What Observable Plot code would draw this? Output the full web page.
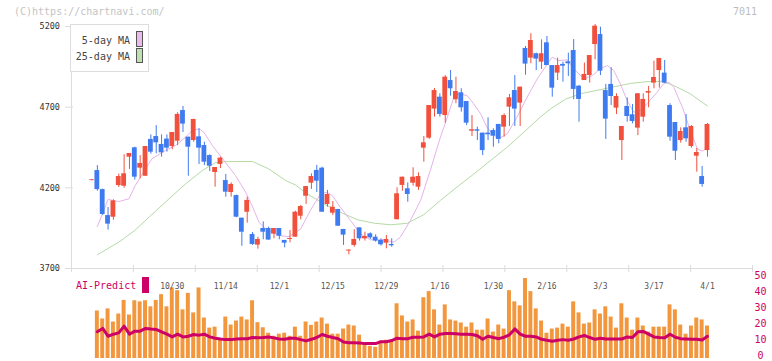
<!DOCTYPE html>
<html>
<head>
<meta charset="utf-8">
<script src="https://cdn.jsdelivr.net/npm/d3@7"></script>
<script src="https://cdn.jsdelivr.net/npm/@observablehq/plot@0.6"></script>
<style>
  html, body { margin: 0; padding: 0; background: #fff; }
  #wrap { position: relative; width: 772px; height: 361px; overflow: hidden; font-family: "DejaVu Sans Mono", monospace; }
  #wrap svg { position: absolute; left: 0; }
  .t { position: absolute; white-space: nowrap; line-height: 12px; }
</style>
</head>
<body>
<div id="wrap">
  <div id="main"></div>
  <div id="sub"></div>
  <div class="t" style="left:14px;top:6px;font-size:10px;color:#c4c4c4;">(C)https://chartnavi.com/</div>
  <div class="t" style="right:15px;top:6px;font-size:10px;color:#bdbdbd;">7011</div>
  <div style="position:absolute;left:70px;top:24px;width:77px;height:46px;border:1px solid #ddd;background:#fff;"></div>
  <div class="t" style="left:0;width:130px;text-align:right;top:35px;font-size:10px;color:#444;">5-day MA</div>
  <div class="t" style="left:0;width:130px;text-align:right;top:51px;font-size:10px;color:#444;">25-day MA</div>
  <div style="position:absolute;left:136px;top:31px;width:5px;height:14px;border:1px solid #555;background:#ebbbeb;"></div>
  <div style="position:absolute;left:136px;top:48px;width:5px;height:13px;border:1px solid #555;background:#bfe0b2;"></div>
  <div class="t" style="left:76px;top:280px;font-size:10px;color:#cc0066;">AI-Predict</div>
  <div style="position:absolute;left:142px;top:277px;width:7px;height:16px;background:#cc0066;"></div>
</div>
<script>
// ---- price data (one candle per trading day) ----
const opens = [4245,4307,4189,4028,4018,4214,4210,4390,4448,4322,
4272,4500,4518,4469,4502,4456,4489,4679,4514,4493,
4516,4462,4400,4295,4345,4245,4171,4152,4012,4049,
3911,3845,3948,3948,3913,3948,3874,3880,3894,4024,
4148,4229,4308,4322,4097,4043,4066,3942,3808,3843,
3952,3884,3915,3894,3874,3857,3849,4002,4215,4194,
4229,4204,4446,4508,4688,4762,4648,4865,4746,4789,
4735,4551,4560,4539,4539,4555,4593,4576,4700,4803,
4725,5064,5004,5031,4979,5099,4958,4911,4965,4981,
5051,4830,4865,4896,5088,5150,4803,4841,4694,4493,
4704,4653,4570,4638,4787,4849,4927,4911,4710,4605,
4493,4572,4456,4396,4270,4431];
const highs = [4252,4338,4192,4078,4126,4285,4405,4413,4452,4400,
4456,4528,4586,4528,4528,4543,4665,4704,4514,4624,
4566,4483,4405,4326,4390,4283,4231,4155,4012,4142,
3923,3894,3989,3956,3948,3948,3874,3935,4055,4091,
4208,4287,4339,4328,4184,4115,4066,3942,3816,3940,
3952,3925,3921,3909,3884,3905,3884,4200,4266,4231,
4324,4293,4518,4710,4816,4783,4896,4927,4886,4814,
4735,4648,4576,4539,4634,4566,4593,4659,4779,4896,
4824,5076,5155,5035,5117,5138,4958,5004,4979,5035,
5119,4834,4973,5020,5212,5196,4841,4944,4783,4580,
4758,4717,4783,4783,4828,4985,5002,4989,4721,4605,
4572,4655,4586,4444,4332,4599];
const lows = [4243,4179,4028,3938,3999,4202,4198,4314,4248,4256,
4270,4409,4411,4390,4421,4436,4462,4543,4272,4483,
4345,4338,4301,4204,4320,4142,4142,4015,3838,3981,
3843,3820,3878,3876,3884,3878,3828,3859,3894,4002,
4097,4190,4171,4049,4080,4029,3962,3843,3785,3832,
3870,3870,3880,3863,3839,3822,3832,4002,4179,4111,
4210,4184,4359,4500,4638,4638,4601,4768,4721,4669,
4586,4518,4493,4400,4493,4452,4473,4514,4580,4580,
4580,4898,4969,4927,4934,4958,4762,4865,4855,4890,
4746,4607,4865,4849,4993,4896,4500,4710,4655,4369,
4607,4597,4524,4607,4696,4814,4818,4849,4489,4369,
4477,4483,4446,4297,4204,4390];
const closes = [4250,4189,4035,3975,4119,4270,4287,4413,4266,4351,
4456,4421,4479,4417,4446,4543,4655,4595,4452,4624,
4446,4359,4334,4326,4384,4173,4221,4018,3925,4122,
3849,3880,3925,3876,3948,3900,3857,3886,4049,4084,
4208,4270,4241,4049,4159,4080,3962,3907,3814,3880,
3884,3898,3890,3870,3847,3880,3841,4163,4266,4159,
4266,4270,4479,4710,4803,4655,4886,4814,4797,4696,
4601,4560,4551,4431,4529,4520,4500,4648,4758,4688,
4824,4967,5113,4998,5031,4958,4818,4958,4954,4969,
4810,4748,4903,5020,5202,4923,4626,4766,4766,4580,
4642,4611,4783,4748,4797,4884,5002,4849,4514,4427,
4549,4504,4580,4419,4221,4593];

// ---- moving averages (day index, value) ----
const ma5Idx = [1,3,5,6.9,8.1,10,11.2,13.7,15.6,17.5,18.7,20,20.9,22.5,24.9,26.8,28.7,29.9,31.2,32.4,34.9,36.8,39,40.8,42.7,43.9,44.9,46.4,48.3,50.2,52,54.5,56.4,57.6,59.5,61.4,63.2,65.1,66.4,67.6,68.5,70.1,71.3,72.6,73.8,75.1,76.3,77.6,79.4,81.3,83.2,85.1,86,87.2,88.8,90,91.9,93.5,95,96.3,97.5,98.7,100,101.2,102.5,103.7,105.6,106.8,107.8,108.7,110.3,111.8,113.1,114,115.2];
const ma5Val = [3960,4128,4115,4132,4215,4318,4380,4431,4462,4514,4555,4566,4545,4462,4359,4277,4173,4091,3987,3946,3905,3897,3946,4060,4163,4173,4153,4080,3998,3915,3878,3878,3863,3894,3998,4122,4307,4514,4638,4762,4783,4772,4721,4659,4576,4524,4510,4535,4638,4762,4876,4969,5010,4989,4993,4938,4876,4896,4938,4958,4927,4845,4741,4669,4680,4721,4793,4845,4855,4824,4700,4555,4442,4427,4452];
const ma25Idx = [1,5,8,11,14.4,17.5,20.6,23,25,30,33,36.2,38,40.2,43.3,46.4,49.6,52.7,55.8,58.9,62,65.1,68.2,71.3,74.5,77.5,80.7,83.8,85.7,88.5,91.5,94.5,97.5,100.6,103.7,106.5,108.7,111.8,114,115];
const ma25Val = [3785,3863,3936,4029,4132,4225,4307,4355,4363,4363,4318,4245,4218,4163,4101,4049,4002,3981,3971,3980,4034,4122,4205,4285,4370,4450,4545,4640,4690,4750,4785,4805,4826,4847,4858,4860,4834,4783,4730,4708];

// ---- AI-Predict panel (day index 1..115) ----
const aiBars = [29.7,24.7,31.0,22.8,27.8,36.3,27.2,36.1,35.4,36.1,
32.3,36.3,39.9,32.3,44.1,42.4,30.4,40.7,28.5,44.1,
25.3,19.0,19.6,11.4,25.9,20.9,23.4,25.9,24.1,36.1,
22.4,19.2,15.8,13.9,15.2,15.8,13.9,19.6,13.9,22.8,
20.7,22.8,25.3,21.5,15.2,15.2,18.4,20.9,20.3,14.6,
8.9,7.6,7.0,10.8,11.4,10.8,34.2,26.6,22.8,24.1,
17.1,38.0,41.8,30.4,20.9,33.5,24.1,23.4,22.2,19.6,
22.2,17.7,17.7,24.7,16.5,20.9,18.4,42.4,35.4,32.9,
50.0,41.8,31.0,23.4,15.8,18.4,19.0,21.5,19.6,35.4,
28.5,21.5,22.2,30.4,27.8,32.3,25.9,19.0,34.2,25.3,
17.7,25.3,20.3,16.5,19.6,19.6,19.6,33.5,30.4,20.9,
15.2,20.3,25.3,24.1,20.3];
const aiLine = [16.7,18.8,13.9,15.2,16.0,20.2,15.2,17.1,17.1,18.8,
18.4,18.2,16.7,15.2,13.5,15.2,13.5,13.9,15.0,14.6,
15.2,13.5,12.7,12.2,11.8,11.8,12.2,12.4,12.4,13.1,
12.9,13.1,13.5,12.9,12.2,12.0,12.7,12.7,11.8,11.0,
12.0,13.1,15.0,13.9,13.1,12.4,10.3,9.9,9.9,9.7,
9.3,9.3,9.3,10.5,10.5,11.2,12.7,12.4,12.4,13.3,
13.3,13.5,15.2,13.5,15.2,15.6,15.6,15.4,15.2,15.2,
15.0,14.2,12.0,13.9,13.1,12.4,13.3,14.8,18.5,15.2,
13.9,13.9,13.5,12.0,11.4,10.8,11.4,11.8,11.4,12.2,
13.5,14.4,13.1,12.0,12.7,12.2,12.2,12.2,12.2,13.5,
13.1,16.7,16.9,15.2,13.5,13.1,12.9,15.2,13.3,12.4,
12.2,12.0,12.0,11.6,13.9];

// ---- tick labels ----
const yTicks = [3700, 4200, 4700, 5200];
const aiTicks = [0, 10, 20, 30, 40, 50];
const dateLabels = ["10/30","11/14","12/1","12/15","12/29","1/16","1/30","2/16","3/3","3/17","4/1"];
const dateIdx = [15, 25, 35, 45, 55, 65, 75, 85, 95, 105, 115];

// ---- build tables ----
const candles = opens.map((o, i) => ({i, o, h: highs[i], l: lows[i], c: closes[i]}));
const up = candles.filter(d => d.c >= d.o);
const down = candles.filter(d => d.c < d.o);
const ma5 = ma5Idx.map((i, k) => ({i, v: ma5Val[k]}));
const ma25 = ma25Idx.map((i, k) => ({i, v: ma25Val[k]}));
const bars = aiBars.map((v, k) => ({i: k + 1, v}));
const ai = aiLine.map((v, k) => ({i: k + 1, v}));
const dates = dateLabels.map((t, k) => ({i: dateIdx[k], t}));

const xDomain = [-3.83, 123.41];
const gridTicks = d3.range(12).map(k => xDomain[0] + k * (xDomain[1] - xDomain[0]) / 11);
const RED = "#f0503c", BLUE = "#3f7bf0";
const hw = 0.45;

const main = Plot.plot({
  width: 772, height: 275,
  marginLeft: 71, marginRight: 20, marginTop: 26, marginBottom: 7,
  x: {domain: xDomain, axis: null},
  y: {domain: [3700, 5200], axis: null},
  style: {background: "transparent", fontFamily: "DejaVu Sans Mono, monospace", overflow: "visible"},
  marks: [
    Plot.ruleY([3700], {stroke: "#dcdcdc"}),
    Plot.ruleX([xDomain[0]], {stroke: "#dcdcdc"}),
    Plot.axisX({ticks: gridTicks, tickSize: 7, dy: -3, tickFormat: () => "", stroke: "#dcdcdc", label: null}),
    Plot.axisY({ticks: yTicks, tickSize: 8, dx: 2, tickFormat: () => "", stroke: "#dcdcdc", label: null}),
    Plot.axisY({ticks: yTicks, tickSize: 0, tickPadding: 11.5, fill: "#333", fontSize: 8.5, tickFormat: d => String(d), label: null}),
    Plot.line(ma25, {x: "i", y: "v", stroke: "#b5dba5", strokeWidth: 1}),
    Plot.line(ma5, {x: "i", y: "v", stroke: "#e6b3ea", strokeWidth: 1}),
    Plot.ruleX(up, {x: "i", y1: "l", y2: "h", stroke: RED, strokeWidth: 1}),
    Plot.ruleX(down, {x: "i", y1: "l", y2: "h", stroke: BLUE, strokeWidth: 1}),
    Plot.rect(up, {x1: d => d.i - hw, x2: d => d.i + hw, y1: "o", y2: "c", fill: RED}),
    Plot.rect(down, {x1: d => d.i - hw, x2: d => d.i + hw, y1: "o", y2: "c", fill: BLUE})
  ]
});
main.style.top = "0px";
document.getElementById("main").appendChild(main);

const sub = Plot.plot({
  width: 772, height: 99,
  marginLeft: 71, marginRight: 20, marginTop: 16, marginBottom: 3,
  x: {domain: xDomain, axis: null},
  y: {domain: [0, 50], axis: null},
  style: {background: "transparent", fontFamily: "DejaVu Sans Mono, monospace", overflow: "visible"},
  marks: [
    Plot.rect(bars, {x1: d => d.i - 0.37, x2: d => d.i + 0.37, y1: 0, y2: "v", fill: "#f2973e"}),
    Plot.line(ai, {x: "i", y: "v", stroke: "#cc0066", strokeWidth: 3}),
    Plot.axisY({anchor: "right", ticks: aiTicks, tickSize: 0, tickPadding: 8, textAnchor: "middle", dy: -2.5, fill: "#cc0066", fontSize: 10, tickFormat: d => String(d), label: null}),
    Plot.text(dates, {x: "i", text: "t", frameAnchor: "top", dy: 5, fill: "#555", fontSize: 8})
  ]
});
sub.style.top = "262px";
document.getElementById("sub").appendChild(sub);
</script>
</body>
</html>
